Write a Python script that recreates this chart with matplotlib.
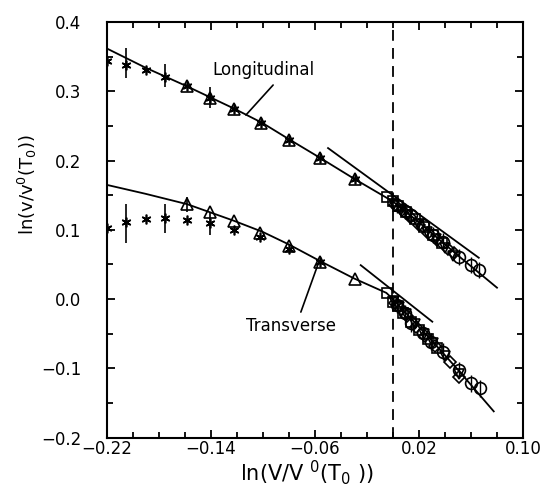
import matplotlib
matplotlib.use("Agg")
import matplotlib.pyplot as plt
import numpy as np

plt.rcParams['font.family'] = ['DejaVu Sans']

# ---------------- data ----------------
# fitted curves
long_fit_x = [-0.22, -0.19, -0.158, -0.122, -0.10, -0.08, -0.056, -0.03, 0.0, 0.02, 0.05, 0.08]
long_fit_y = [0.362, 0.334, 0.307, 0.275, 0.254, 0.231, 0.204, 0.174, 0.141, 0.111, 0.063, 0.0165]
trans_fit_x = [-0.22, -0.19, -0.158, -0.122, -0.10, -0.08, -0.056, -0.03, -0.005, 0.0, 0.03, 0.05, 0.0775]
trans_fit_y = [0.165, 0.152, 0.137, 0.113, 0.097, 0.079, 0.055, 0.030, 0.009, 0.0, -0.060, -0.102, -0.162]

# short tangent lines
long_tan_x = [-0.0498, 0.066]
long_tan_y = [0.218, 0.0597]
trans_tan_x = [-0.0247, 0.0303]
trans_tan_y = [0.049, -0.0326]

# stars (left data)
long_star_x = [-0.22, -0.205, -0.19, -0.175, -0.158, -0.1406, -0.122, -0.1014, -0.0797, -0.0562, -0.0293]
long_star_y = [0.344, 0.338, 0.330, 0.321, 0.307, 0.291, 0.274, 0.254, 0.2296, 0.203, 0.173]
long_star_err_x = [-0.205, -0.175, -0.1406]
long_star_err_lo = [0.319, 0.306, 0.276]
long_star_err_hi = [0.363, 0.339, 0.306]

trans_star_x = [-0.22, -0.205, -0.19, -0.175, -0.158, -0.1406, -0.122, -0.1017, -0.0797, -0.0562]
trans_star_y = [0.103, 0.112, 0.115, 0.1166, 0.114, 0.110, 0.100, 0.089, 0.073, 0.054]
trans_star_err_x = [-0.205, -0.175, -0.1406]
trans_star_err_lo = [0.081, 0.095, 0.093]
trans_star_err_hi = [0.138, 0.137, 0.126]

# open triangles (left data)
long_tri_x = [-0.158, -0.1406, -0.122, -0.1014, -0.0797, -0.0562, -0.0293]
long_tri_y = [0.307, 0.291, 0.274, 0.254, 0.2296, 0.203, 0.173]
trans_tri_x = [-0.158, -0.1406, -0.122, -0.1017, -0.0797, -0.0562, -0.0293]
trans_tri_y = [0.137, 0.126, 0.113, 0.095, 0.077, 0.054, 0.0286]
trans_tri_err_x = [-0.158]
trans_tri_err_lo = [0.126]
trans_tri_err_hi = [0.148]

# dense cluster, longitudinal
long_sq_x = [-0.0045, 0.0, 0.004, 0.010, 0.017, 0.024, 0.031, 0.038]
long_sq_y = [0.148, 0.141, 0.134, 0.126, 0.115, 0.104, 0.092, 0.081]
long_dia_x = [0.002, 0.007, 0.013, 0.020, 0.027, 0.034, 0.0423, 0.047]
long_dia_y = [0.136, 0.128, 0.119, 0.107, 0.096, 0.086, 0.073, 0.066]
long_circ_x = [0.003, 0.009, 0.0142, 0.0231, 0.0308, 0.0385, 0.0505, 0.0603, 0.066]
long_circ_y = [0.136, 0.127, 0.121, 0.107, 0.0925, 0.083, 0.061, 0.049, 0.042]
long_tdn_x = [0.001, 0.006, 0.012, 0.019, 0.026, 0.033, 0.040, 0.046]
long_tdn_y = [0.138, 0.129, 0.121, 0.109, 0.097, 0.087, 0.074, 0.062]

# dense cluster, transverse
trans_sq_x = [-0.0045, 0.0001, 0.004, 0.0078, 0.014, 0.020, 0.027, 0.034]
trans_sq_y = [0.0092, -0.0037, -0.010, -0.0205, -0.033, -0.044, -0.058, -0.071]
trans_dia_x = [0.002, 0.006, 0.011, 0.018, 0.025, 0.032, 0.0436, 0.0505]
trans_dia_y = [-0.006, -0.014, -0.024, -0.040, -0.053, -0.068, -0.0903, -0.113]
trans_circ_x = [0.003, 0.009, 0.0142, 0.0231, 0.0296, 0.0385, 0.0505, 0.0603, 0.0666]
trans_circ_y = [-0.008, -0.020, -0.035, -0.0494, -0.0615, -0.0759, -0.1023, -0.1215, -0.1287]
trans_tdn_x = [0.001, 0.005, 0.010, 0.017, 0.024, 0.031, 0.040, 0.0505]
trans_tdn_y = [-0.002, -0.011, -0.021, -0.036, -0.050, -0.064, -0.082, -0.108]

x_ticks = [-0.22, -0.14, -0.06, 0.02, 0.10]
x_ticklabels = ['\u22120.22', '\u22120.14', '\u22120.06', '0.02', '0.10']
y_ticks = [-0.2, -0.1, 0.0, 0.1, 0.2, 0.3, 0.4]
y_ticklabels = ['\u22120.2', '\u22120.1', '0.0', '0.1', '0.2', '0.3', '0.4']

# ---------------- figure ----------------
fig = plt.figure(figsize=(5.42, 4.94), dpi=100)
ax = fig.add_axes([0.1965, 0.114, 0.7685, 0.8415])

lw = 1.3
k = 'black'
ax.plot(long_fit_x, long_fit_y, color=k, lw=lw)
ax.plot(trans_fit_x, trans_fit_y, color=k, lw=lw)
ax.plot(long_tan_x, long_tan_y, color=k, lw=lw)
ax.plot(trans_tan_x, trans_tan_y, color=k, lw=lw)
ax.axvline(0.0, color=k, lw=1.3, dashes=(6, 4))

mk = dict(linestyle='none', markerfacecolor='none', markeredgecolor=k, markeredgewidth=1.2)

def stars(x, y):
    ax.plot(x, y, marker=(6, 2, 0), markersize=7, color=k, markeredgewidth=1.2, linestyle='none')

def errs(x, lo, hi):
    ax.vlines(x, lo, hi, color=k, lw=1.2)

stars(long_star_x, long_star_y)
stars(trans_star_x, trans_star_y)
errs(long_star_err_x, long_star_err_lo, long_star_err_hi)
errs(trans_star_err_x, trans_star_err_lo, trans_star_err_hi)
errs(trans_tri_err_x, trans_tri_err_lo, trans_tri_err_hi)

ax.plot(long_tri_x, long_tri_y, marker='^', markersize=8, **mk)
ax.plot(trans_tri_x, trans_tri_y, marker='^', markersize=8, **mk)

for sx, sy, dx, dy, cx, cy, vx, vy in [
        (long_sq_x, long_sq_y, long_dia_x, long_dia_y,
         long_circ_x, long_circ_y, long_tdn_x, long_tdn_y),
        (trans_sq_x, trans_sq_y, trans_dia_x, trans_dia_y,
         trans_circ_x, trans_circ_y, trans_tdn_x, trans_tdn_y)]:
    ax.plot(sx, sy, marker='s', markersize=7, **mk)
    ax.plot(dx, dy, marker='D', markersize=6, **mk)
    ax.plot(vx, vy, marker='v', markersize=7, **mk)
    ax.plot(cx, cy, marker='o', markersize=8.5, **mk)
    ax.vlines(cx, np.array(cy) - 0.012, np.array(cy) + 0.012, color=k, lw=1.0)

# annotations
ax.annotate('', xy=(-0.1129, 0.2657), xytext=(-0.092, 0.309),
            arrowprops=dict(arrowstyle='-', color=k, lw=1.2, shrinkA=0, shrinkB=0))
ax.text(-0.139, 0.3306, 'Longitudinal', fontsize=12, ha='left', va='center')
ax.annotate('', xy=(-0.0569, 0.0535), xytext=(-0.0707, -0.0187),
            arrowprops=dict(arrowstyle='-', color=k, lw=1.2, shrinkA=0, shrinkB=0))
ax.text(-0.1129, -0.0388, 'Transverse', fontsize=12, ha='left', va='center')

ax.set_xlim(-0.22, 0.10)
ax.set_ylim(-0.2, 0.4)
ax.set_xticks(x_ticks)
ax.set_xticklabels(x_ticklabels, fontsize=12)
ax.set_yticks(y_ticks)
ax.set_yticklabels(y_ticklabels, fontsize=12)
ax.set_xticks(np.arange(-0.22, 0.1001, 0.02), minor=True)
ax.set_yticks(np.arange(-0.2, 0.4001, 0.05), minor=True)
ax.tick_params(which='both', direction='in', top=True, right=True, width=1.3)
ax.tick_params(which='major', length=6)
ax.tick_params(which='minor', length=4)
ax.tick_params(axis='y', which='major', pad=18)
ax.tick_params(axis='x', which='major', pad=2)
for s in ax.spines.values():
    s.set_linewidth(1.5)

ax.set_xlabel('ln(V/V $^{0}$(T$_{0}$ ))', fontsize=15)
ax.set_ylabel('ln(v/v$^{0}$(T$_{0}$))', fontsize=13)
ax.xaxis.set_label_coords(0.481, -0.050)
ax.yaxis.set_label_coords(-0.162, 0.608)

fig.savefig('out.png', dpi=100)
